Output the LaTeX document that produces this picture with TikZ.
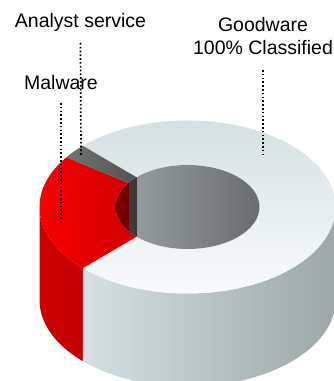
\documentclass[tikz,border=0pt]{standalone}
\usepackage{fontspec}
\setmainfont{Liberation Sans}
\usetikzlibrary{calc}

\definecolor{topwhite}{HTML}{D4DFE1}
\definecolor{frontwhite}{HTML}{FAFCFC}
\definecolor{wallleft}{HTML}{D5E0E2}
\definecolor{wallright}{HTML}{9DA7A7}
\definecolor{redlight}{HTML}{FF0000}
\definecolor{reddark}{HTML}{B60000}
\definecolor{redwallleft}{HTML}{CA0000}
\definecolor{redwallright}{HTML}{B20000}
\definecolor{greylight}{HTML}{727474}
\definecolor{greydark}{HTML}{3A3A3A}
\definecolor{holeleft}{HTML}{9CA2A2}
\definecolor{holeright}{HTML}{696D6D}
\definecolor{holered}{HTML}{6C0000}

\begin{document}
\begin{tikzpicture}[x=1pt, y=1pt,
  labeltext/.style={font=\fontsize{19.5}{23.5}\selectfont, inner sep=0pt, anchor=base},
  leader/.style={line width=1.7pt, dash pattern=on 1.7pt off 2.1pt}]

\useasboundingbox (0,0) rectangle (334,381);

\coordinate (top) at (187.5,174);

% side walls
\shade[left color=redwallleft, right color=redwallright] (top) ++(180:148 and 86.5)
  arc[start angle=180, end angle=225, x radius=148, y radius=86.5] -- ++(0,-93)
  arc[start angle=225, end angle=180, x radius=148, y radius=86.5] -- cycle;
\shade[left color=wallleft, right color=wallright] (top) ++(225:148 and 86.5)
  arc[start angle=225, end angle=360, x radius=148, y radius=86.5] -- ++(0,-93)
  arc[start angle=360, end angle=225, x radius=148, y radius=86.5] -- cycle;

% top of the ring
\shade[top color=topwhite, bottom color=frontwhite] (top) ++(135:148 and 86.5)
  arc[start angle=135, end angle=-135, x radius=148, y radius=86.5]
  -- ($(top)+(-135:72 and 42)$)
  arc[start angle=-135, end angle=135, x radius=72, y radius=42] -- cycle;
\shade[left color=redlight, right color=reddark] (top) ++(145:148 and 86.5)
  arc[start angle=145, end angle=225, x radius=148, y radius=86.5]
  -- ($(top)+(225:72 and 42)$)
  arc[start angle=225, end angle=145, x radius=72, y radius=42] -- cycle;
\shade[left color=greylight, right color=greydark] (top) ++(135:148 and 86.5)
  arc[start angle=135, end angle=145, x radius=148, y radius=86.5]
  -- ($(top)+(145:72 and 42)$)
  arc[start angle=145, end angle=135, x radius=72, y radius=42] -- cycle;

% hole
\shade[left color=holeleft, right color=holeright] (top) ellipse[x radius=72, y radius=42];
\begin{scope}
  \clip (top) ellipse[x radius=72, y radius=42];
  \shade[left color=holered!85!red, right color=holered] (110,120) rectangle (128.5,230);
  \fill[greydark] (128.5,120) rectangle (136.6,230);
\end{scope}

% labels
\node[labeltext] (analyst) at (80.5,353) {Analyst service};
\node[labeltext] (malware) at (61,291) {Malware};
\node[labeltext, align=center] (goodware) at (263,326) {Goodware\\100\% Classified};

\coordinate (analyst tip) at (81,226);
\coordinate (malware tip) at (61,162);
\coordinate (goodware tip) at (263,226);
\draw[leader] ([yshift=-15pt]analyst.base) -- (analyst tip);
\draw[leader] ([yshift=-13pt]malware.base) -- (malware tip);
\draw[leader] ([yshift=-15pt]goodware.base) -- (goodware tip);
\end{tikzpicture}
\end{document}
